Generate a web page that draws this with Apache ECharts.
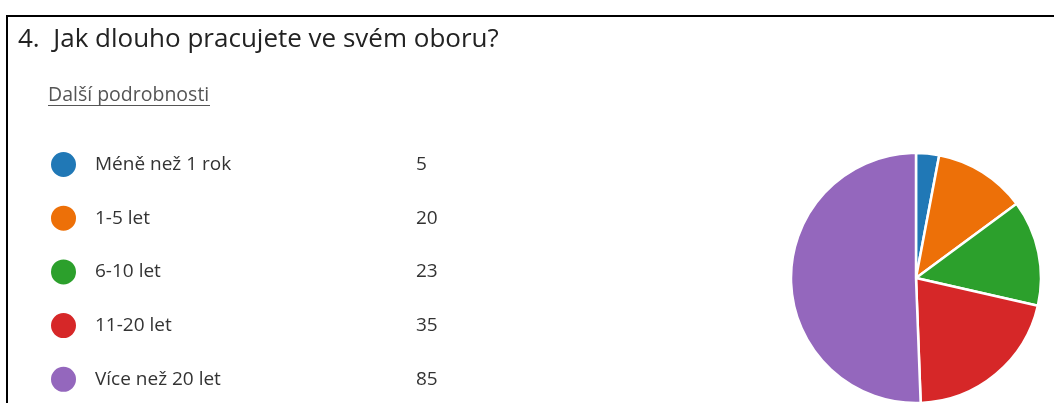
<!DOCTYPE html>
<html>
<head>
<meta charset="utf-8">
<script src="https://cdn.jsdelivr.net/npm/echarts@6/dist/echarts.min.js"></script>
<style>
  html, body { margin: 0; padding: 0; background: #fff; }
  #chart { width: 1054px; height: 403px; }
</style>
</head>
<body>
<div id="chart"></div>
<script>
// data
var categories = ['Méně než 1 rok', '1-5 let', '6-10 let', '11-20 let', 'Více než 20 let'];
var counts = [5, 20, 23, 35, 85];
var colors = ['#2078b6', '#ed7008', '#2ca02c', '#d62728', '#9467bd'];
var titleText = '4.  Jak dlouho pracujete ve svém oboru?';
var linkText = 'Další podrobnosti';

var myChart = echarts.init(document.getElementById('chart'));

var option = {
    textStyle: { fontFamily: 'Open Sans' },
    color: colors,
    title: {
        text: titleText,
        left: 13,
        top: 22,
        padding: 5,
        textStyle: { fontSize: 26, fontWeight: 'normal', color: '#222' }
    },
    legend: {
        orient: 'vertical',
        left: 49,
        top: 150,
        padding: 0,
        icon: 'circle',
        itemWidth: 27,
        itemHeight: 27,
        itemGap: 24.7,
        selectedMode: false,
        formatter: function(name) {
            var i = categories.indexOf(name);
            return '{n|' + name + '}{v|' + counts[i] + '}';
        },
        textStyle: {
            rich: {
                n: { fontSize: 19, color: '#333', width: 321, padding: [0, 0, 0, 13], lineHeight: 27 },
                v: { fontSize: 19, color: '#333', lineHeight: 27 }
            }
        }
    },
    graphic: [
        {
            type: 'polyline',
            shape: { points: [[7, 403], [7, 16], [1054, 16]] },
            style: { stroke: '#000', lineWidth: 2, fill: null }
        },
        {
            type: 'text',
            left: 48,
            top: 85,
            style: { text: linkText, fontSize: 19.5, fill: '#555', fontFamily: 'Open Sans' }
        },
        {
            type: 'line',
            shape: { x1: 48, y1: 105.5, x2: 210, y2: 105.5 },
            style: { stroke: '#555', lineWidth: 1 }
        }
    ],
    series: [
        {
            type: 'pie',
            center: [916, 278],
            radius: 125,
            startAngle: 90,
            clockwise: true,
            label: { show: false },
            labelLine: { show: false },
            itemStyle: { borderColor: '#fff', borderWidth: 2.5 },
            emphasis: { disabled: true },
            data: categories.map(function(c, i) { return { name: c, value: counts[i] }; })
        }
    ]
};

myChart.setOption(option);
</script>
</body>
</html>
